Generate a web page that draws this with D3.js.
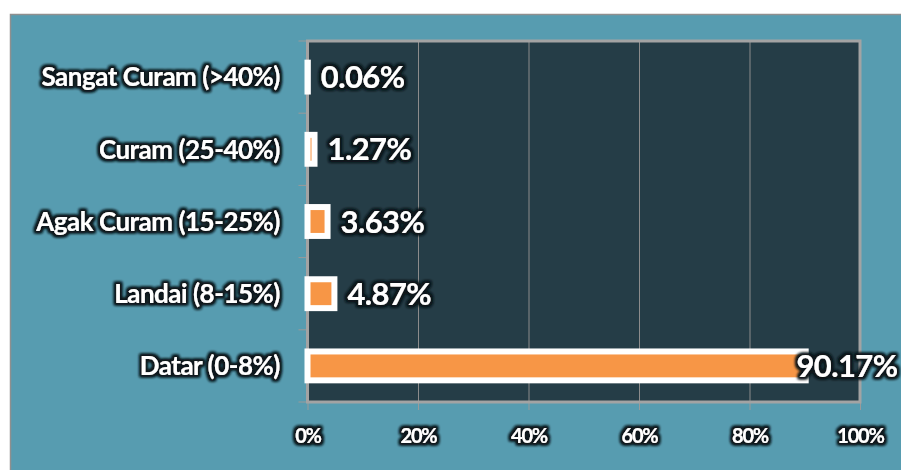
<!DOCTYPE html>
<html>
<head>
<meta charset="utf-8">
<script src="https://cdn.jsdelivr.net/npm/d3@7"></script>
<style>
  body { margin: 0; background: #fff; }
  text { font-family: Lato, "Open Sans", sans-serif; font-weight: 700; fill: #fff; }
</style>
</head>
<body>
<svg></svg>
<script>
let width = 901;
let height = 470;

let categories = ['Sangat Curam (>40%)', 'Curam (25-40%)', 'Agak Curam (15-25%)', 'Landai (8-15%)', 'Datar (0-8%)'];
let values = [0.06, 1.27, 3.63, 4.87, 90.17];
let valueLabels = ['0.06%', '1.27%', '3.63%', '4.87%', '90.17%'];
let xTicks = [0, 20, 40, 60, 80, 100];

let plot = { left: 307.5, right: 860, top: 41, bottom: 402 };

let xScale = d3.scaleLinear()
                .domain([0, 100])
                .range([plot.left, plot.right]);

let yScale = d3.scaleBand()
                .domain(categories)
                .range([plot.top, plot.bottom])
                .paddingInner(0.6)
                .paddingOuter(0.3);

let svg = d3.select('svg')
    .attr('width', width)
    .attr('height', height);

// dark glow behind white labels
let glow = svg.append('defs').append('filter')
    .attr('id', 'glow')
    .attr('x', '-20%').attr('y', '-40%')
    .attr('width', '140%').attr('height', '180%');
glow.append('feMorphology')
    .attr('in', 'SourceAlpha')
    .attr('operator', 'dilate')
    .attr('radius', 2.2)
    .attr('result', 'fat');
glow.append('feGaussianBlur')
    .attr('in', 'fat')
    .attr('stdDeviation', 1.4)
    .attr('result', 'blur');
glow.append('feFlood').attr('flood-color', '#0b171c');
glow.append('feComposite').attr('in2', 'blur').attr('operator', 'in').attr('result', 'shadow');
let merge = glow.append('feMerge');
merge.append('feMergeNode').attr('in', 'shadow');
merge.append('feMergeNode').attr('in', 'shadow');
merge.append('feMergeNode').attr('in', 'SourceGraphic');

// chart background
svg.append('rect')
    .attr('x', 10.5)
    .attr('y', 14.5)
    .attr('width', width)
    .attr('height', height)
    .attr('fill', '#579cb0')
    .attr('stroke', '#8f8f8f')
    .attr('stroke-width', 1.5);

// plot area
svg.append('rect')
    .attr('x', plot.left)
    .attr('y', plot.top)
    .attr('width', plot.right - plot.left)
    .attr('height', plot.bottom - plot.top)
    .attr('fill', '#253d47');

let xGrid = d3.axisBottom(xScale)
                .tickValues(xTicks)
                .tickSize(-(plot.bottom - plot.top))
                .tickFormat('');

svg.append('g')
    .attr('transform', `translate(0, ${plot.bottom})`)
    .call(xGrid)
    .call(g => g.select('.domain').remove())
    .call(g => g.selectAll('line').attr('stroke', '#8c8c8c'));

let xAxis = d3.axisBottom(xScale)
                .tickValues(xTicks)
                .tickSize(8)
                .tickPadding(19)
                .tickFormat(d => d + '%');

svg.append('g')
    .attr('transform', `translate(0, ${plot.bottom})`)
    .call(xAxis)
    .call(g => g.select('.domain').remove())
    .call(g => g.selectAll('line').attr('stroke', '#9a9a9a'))
    .call(g => g.selectAll('text')
        .attr('fill', '#fff')
        .attr('filter', 'url(#glow)')
        .style('font-size', '20px')
        .style('letter-spacing', '-1.2px'));

// category ticks on band boundaries
let bounds = categories.map(c => yScale(c) - yScale.step() * yScale.paddingOuter())
    .concat([plot.bottom]);
svg.append('g')
    .selectAll('line')
    .data(bounds)
    .enter()
    .append('line')
        .attr('x1', plot.left - 9)
        .attr('x2', plot.left)
        .attr('y1', d => d)
        .attr('y2', d => d)
        .attr('stroke', '#9a9a9a');

// plot border
svg.append('rect')
    .attr('x', plot.left)
    .attr('y', plot.top)
    .attr('width', plot.right - plot.left)
    .attr('height', plot.bottom - plot.top)
    .attr('fill', 'none')
    .attr('stroke', '#a3a3a3')
    .attr('stroke-width', 3);

// bars
svg.selectAll('.bar')
    .data(values)
    .enter()
    .append('rect')
        .attr('class', 'bar')
        .attr('x', xScale(0))
        .attr('y', (d, i) => yScale(categories[i]))
        .attr('width', d => xScale(d) - xScale(0))
        .attr('height', yScale.bandwidth())
        .attr('fill', '#f79646')
        .attr('stroke', '#fff')
        .attr('stroke-width', 6);

// value labels
svg.selectAll('.value')
    .data(values)
    .enter()
    .append('text')
        .attr('class', 'value')
        .attr('x', d => Math.min(xScale(d) + 13, xScale(88.5)))
        .attr('y', (d, i) => yScale(categories[i]) + yScale.bandwidth() / 2)
        .attr('dy', '0.36em')
        .attr('filter', 'url(#glow)')
        .style('font-size', '31px')
        .style('letter-spacing', '-0.6px')
        .text((d, i) => valueLabels[i]);

// category labels
svg.selectAll('.cat')
    .data(categories)
    .enter()
    .append('text')
        .attr('class', 'cat')
        .attr('x', 280)
        .attr('y', d => yScale(d) + yScale.bandwidth() / 2)
        .attr('dy', '0.36em')
        .attr('text-anchor', 'end')
        .attr('filter', 'url(#glow)')
        .style('font-size', '26px')
        .style('letter-spacing', '-0.5px')
        .text(d => d);
</script>
</body>
</html>
